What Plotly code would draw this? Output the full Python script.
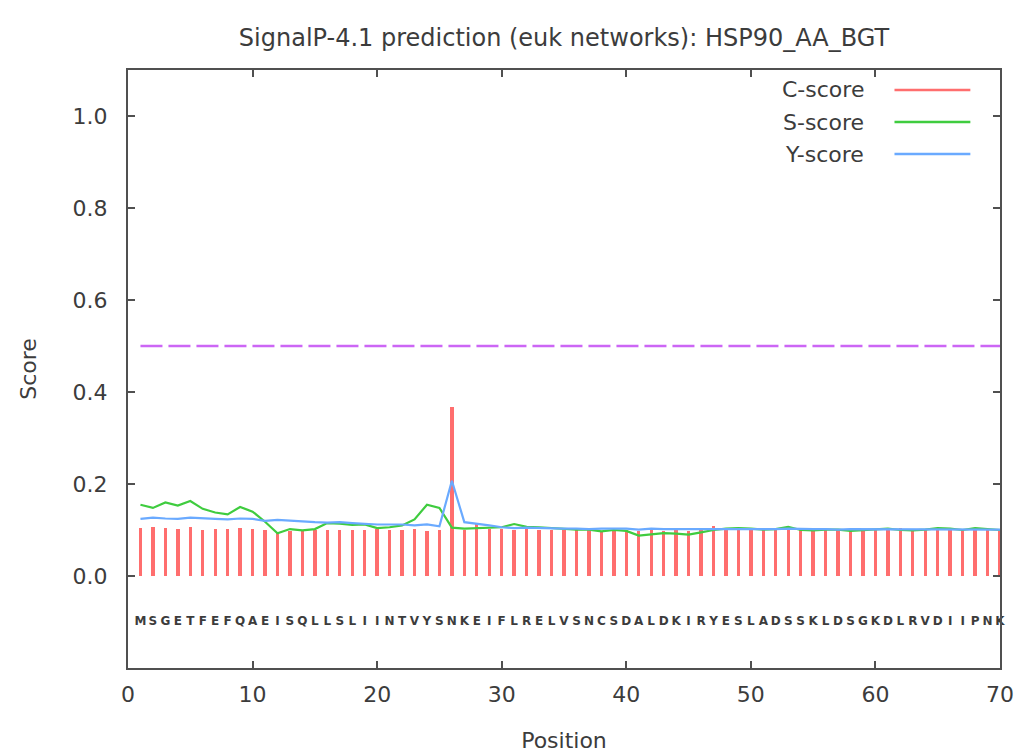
import plotly.graph_objects as go

# Residue positions and the N-terminal sequence of HSP90_AA_BGT
positions = list(range(1, 71))
sequence = list("MSGETFEFQAEISQLLSLIINTVYSNKEIFLRELVSNCSDALDKIRYESLADSSKLDSGKDLRVDIIPNK")

# SignalP-4.1 scores per position
c_score = [
    0.104, 0.106, 0.104, 0.103, 0.106, 0.099, 0.103, 0.103, 0.105, 0.103,
    0.100, 0.096, 0.097, 0.098, 0.100, 0.099, 0.099, 0.101, 0.100, 0.102,
    0.099, 0.101, 0.103, 0.098, 0.101, 0.368, 0.101, 0.112, 0.103, 0.103,
    0.099, 0.102, 0.101, 0.101, 0.100, 0.100, 0.101, 0.096, 0.101, 0.101,
    0.098, 0.100, 0.098, 0.099, 0.097, 0.101, 0.108, 0.100, 0.102, 0.102,
    0.100, 0.102, 0.103, 0.100, 0.101, 0.099, 0.101, 0.099, 0.100, 0.103,
    0.101, 0.104, 0.100, 0.101, 0.102, 0.101, 0.099, 0.104, 0.102, 0.101,
]
s_score = [
    0.155, 0.148, 0.160, 0.153, 0.163, 0.146, 0.138, 0.134, 0.150, 0.140,
    0.118, 0.093, 0.102, 0.099, 0.102, 0.115, 0.114, 0.111, 0.112, 0.104,
    0.106, 0.110, 0.123, 0.155, 0.148, 0.105, 0.103, 0.104, 0.105, 0.106,
    0.113, 0.107, 0.106, 0.104, 0.102, 0.101, 0.101, 0.097, 0.100, 0.098,
    0.088, 0.091, 0.093, 0.092, 0.090, 0.095, 0.100, 0.103, 0.104, 0.103,
    0.101, 0.102, 0.107, 0.100, 0.099, 0.101, 0.101, 0.098, 0.100, 0.101,
    0.103, 0.100, 0.099, 0.101, 0.104, 0.103, 0.100, 0.104, 0.102, 0.100,
]
y_score = [
    0.124, 0.127, 0.125, 0.124, 0.127, 0.125, 0.124, 0.123, 0.125, 0.124,
    0.120, 0.122, 0.120, 0.118, 0.117, 0.116, 0.117, 0.115, 0.113, 0.112,
    0.112, 0.112, 0.110, 0.112, 0.108, 0.207, 0.117, 0.114, 0.110, 0.106,
    0.104, 0.105, 0.104, 0.104, 0.103, 0.103, 0.102, 0.103, 0.103, 0.103,
    0.101, 0.103, 0.102, 0.102, 0.101, 0.102, 0.102, 0.102, 0.102, 0.102,
    0.102, 0.102, 0.103, 0.102, 0.102, 0.102, 0.101, 0.102, 0.102, 0.102,
    0.102, 0.102, 0.102, 0.101, 0.102, 0.102, 0.102, 0.102, 0.102, 0.101,
]
cutoff = 0.5

x_ticks = [0, 10, 20, 30, 40, 50, 60, 70]
y_ticks = [0.0, 0.2, 0.4, 0.6, 0.8, 1.0]

RED = "#ff6e6e"
GREEN = "#3fcc3f"
BLUE = "#6aaaff"
PURPLE = "#cc66f5"
TEXT = "#3c3c3c"
FONT = "DejaVu Sans"

fig = go.Figure()

fig.add_trace(go.Bar(
    x=positions, y=c_score, width=0.27, name="C-score",
    marker=dict(color=RED, line=dict(width=0)),
))
fig.add_trace(go.Scatter(
    x=positions, y=s_score, mode="lines", name="S-score",
    line=dict(color=GREEN, width=2.2),
))
fig.add_trace(go.Scatter(
    x=positions, y=y_score, mode="lines", name="Y-score",
    line=dict(color=BLUE, width=2.2),
))
fig.add_trace(go.Scatter(
    x=[positions[0], positions[-1]], y=[cutoff, cutoff], mode="lines",
    line=dict(color=PURPLE, width=2.5, dash="22px,6px"), hoverinfo="skip",
))
fig.add_trace(go.Scatter(
    x=positions, y=[-0.1] * len(positions), mode="text", text=sequence,
    textfont=dict(family=FONT, size=12, color=TEXT, weight="bold"),
    cliponaxis=False, hoverinfo="skip",
))

# Key in the upper-right corner: label on the left, line sample on the right
legend_rows = [("C-score", RED), ("S-score", GREEN), ("Y-score", BLUE)]
row_y = [0.9666, 0.913, 0.8595]
for (label, color), yy in zip(legend_rows, row_y):
    fig.add_annotation(
        x=0.846, y=yy, xref="paper", yref="paper", text=label,
        showarrow=False, xanchor="right", yanchor="middle",
        font=dict(family=FONT, size=22, color=TEXT),
    )
    fig.add_shape(
        type="line", xref="paper", yref="paper",
        x0=0.879, x1=0.966, y0=yy, y1=yy,
        line=dict(color=color, width=2.5),
    )

axis_common = dict(
    showline=True, linecolor="#505050", linewidth=2, mirror="allticks",
    ticks="inside", ticklen=7, tickwidth=1.5, tickcolor="#505050",
    showgrid=False, zeroline=False, automargin=False,
    tickfont=dict(family=FONT, size=22, color=TEXT),
)

fig.update_layout(
    width=1017, height=756,
    margin=dict(l=128, r=17, t=70, b=88),
    paper_bgcolor="white", plot_bgcolor="white",
    showlegend=False, bargap=0,
    title=dict(
        text="SignalP-4.1 prediction (euk networks): HSP90_AA_BGT",
        x=0.5, xref="paper", y=1 - 38 / 756, yanchor="middle",
        font=dict(family=FONT, size=24, color=TEXT),
    ),
    xaxis=dict(
        range=[0, 70], tickvals=x_ticks, ticklabelstandoff=6,
        title=dict(text="Position", standoff=26,
                   font=dict(family=FONT, size=22, color=TEXT)),
        **axis_common,
    ),
    yaxis=dict(
        range=[-0.2, 1.1], tickvals=y_ticks, tickformat=".1f",
        ticklabelstandoff=14,
        title=dict(text="Score", standoff=30,
                   font=dict(family=FONT, size=22, color=TEXT)),
        **axis_common,
    ),
)

fig.write_html("out.html")
